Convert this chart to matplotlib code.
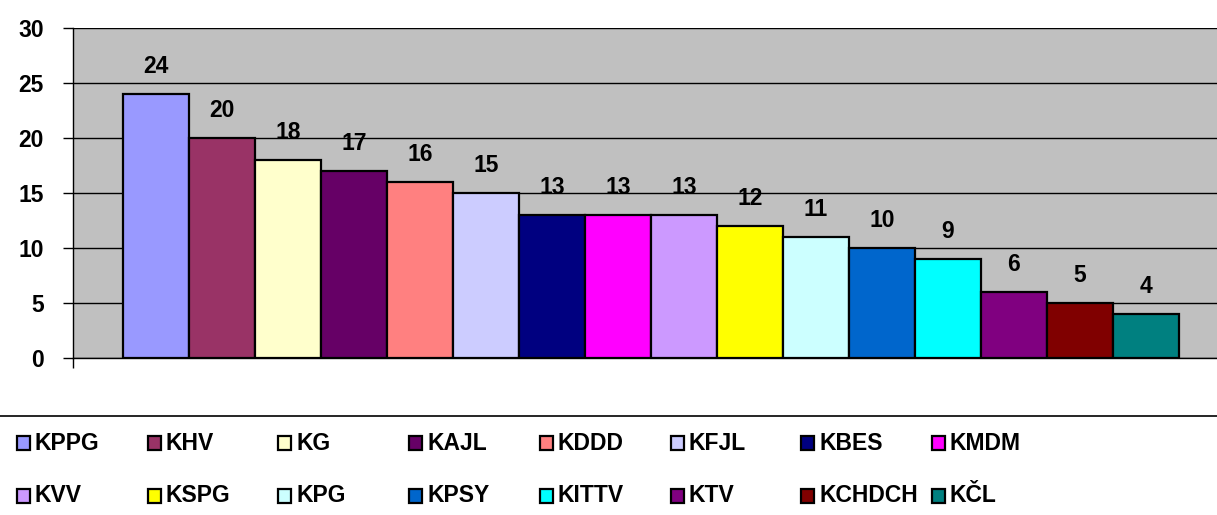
import matplotlib
matplotlib.use('Agg')
import matplotlib.pyplot as plt
from matplotlib.patches import Rectangle

# Datos
categorias = ['KPPG', 'KHV', 'KG', 'KAJL', 'KDDD', 'KFJL', 'KBES', 'KMDM',
              'KVV', 'KSPG', 'KPG', 'KPSY', 'KITTV', 'KTV', 'KCHDCH', 'KČL']
valores = [24, 20, 18, 17, 16, 15, 13, 13, 13, 12, 11, 10, 9, 6, 5, 4]
colores = ['#9999FF', '#993366', '#FFFFCC', '#660066', '#FF8080', '#CCCCFF',
           '#000080', '#FF00FF', '#CC99FF', '#FFFF00', '#CCFFFF', '#0066CC',
           '#00FFFF', '#800080', '#800000', '#008080']
yticks = [0, 5, 10, 15, 20, 25, 30]

plt.rcParams['font.family'] = ['Liberation Sans', 'DejaVu Sans']
plt.rcParams['font.weight'] = 'bold'
FS = 16.5

W, H = 1217, 515
fig = plt.figure(figsize=(W / 100, H / 100), dpi=100)

# Área del gráfico
ax = fig.add_axes([73 / W, 1 - 358 / H, 1 - 73 / W, (358 - 28) / H])
ax.set_facecolor('#C0C0C0')
x = list(range(len(valores)))
ax.bar(x, valores, width=1.0, color=colores, edgecolor='black', linewidth=1.6, zorder=3)
for xi, v in zip(x, valores):
    ax.annotate(str(v), (xi, v), xytext=(0, 20), textcoords='offset points',
                ha='center', va='center', fontsize=FS, fontweight='bold')

left = -0.5 - 50 / 66
right = (W - 123) / 66 - 0.5
ax.set_xlim(left, right)
ax.set_ylim(0, 30)
ax.set_yticks(yticks)
ax.set_yticklabels([str(t) for t in yticks], fontsize=FS, fontweight='bold')
ax.tick_params(axis='y', length=7.2, width=1, pad=14)
ax.set_xticks([left])
ax.set_xticklabels([''])
ax.tick_params(axis='x', length=7.2, width=1)
ax.grid(axis='y', color='black', linewidth=1, zorder=1)
ax.set_axisbelow(True)
for s in ['top', 'right']:
    ax.spines[s].set_visible(False)
ax.spines['left'].set_linewidth(1)
ax.spines['bottom'].set_linewidth(1)

# Leyenda
lg = fig.add_axes([0, 0, 1, (H - 416) / H])
lg.set_xlim(0, W)
lg.set_ylim(H, 416)
lg.set_xticks([])
lg.set_yticks([])
for s in ['left', 'right', 'bottom']:
    lg.spines[s].set_visible(False)
lg.spines['top'].set_linewidth(1.2)
filas_y = [443, 496]
for i, (cat, col) in enumerate(zip(categorias, colores)):
    fila, columna = divmod(i, 8)
    x0 = 17 + 130.7 * columna
    y0 = filas_y[fila]
    lg.add_patch(Rectangle((x0, y0 - 7), 13, 14, facecolor=col,
                           edgecolor='black', linewidth=1.6))
    lg.text(x0 + 18, y0, cat, fontsize=FS, fontweight='bold', va='center', ha='left')

fig.savefig('out.png', dpi=100)
